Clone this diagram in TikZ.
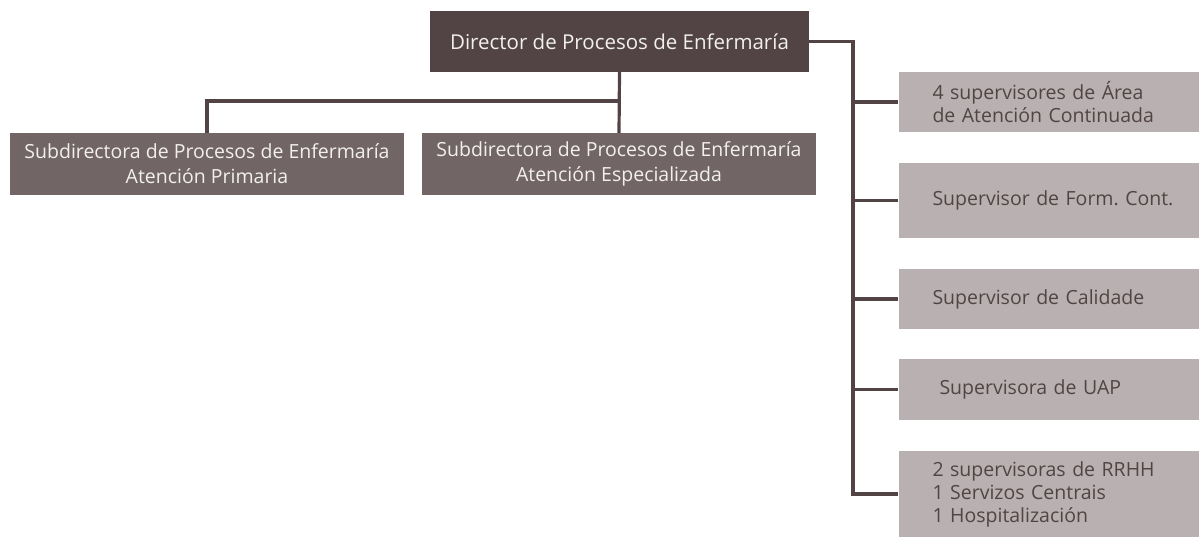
\documentclass[tikz,border=0pt]{standalone}
\usepackage{fontspec}
\setmainfont{Open Sans}
\frenchspacing
\usetikzlibrary{positioning}
\definecolor{darkbrown}{HTML}{524444}
\definecolor{midbrown}{HTML}{726566}
\definecolor{lightbrown}{HTML}{B9B1B1}
\definecolor{palewhite}{HTML}{F2EFEF}

\begin{document}
\begin{tikzpicture}[x=1pt, y=-1pt, font=\fontsize{20.5}{24}\selectfont,
    headbox/.style = {fill=darkbrown, text=palewhite, minimum width=379pt, minimum height=61pt, inner sep=0pt},
    subbox/.style  = {fill=midbrown, text=palewhite, align=center, minimum width=394pt, minimum height=62pt, inner sep=0pt,
                      font=\fontsize{19.5}{25}\selectfont},
    supbox/.style  = {fill=lightbrown, text=darkbrown, align=left, text width=232pt, inner xsep=34pt, inner ysep=0pt,
                      font=\fontsize{19.5}{23}\selectfont},
    link/.style    = {draw=darkbrown, line width=3.2pt}]
  \useasboundingbox (0,0) rectangle (1201,537);

  \node[headbox] (dir) at (619.5, 41.5) {Director de Procesos de Enfermaría};

  \node[subbox] (subap) at (207, 164) {Subdirectora de Procesos de Enfermaría\\Atención Primaria};
  \node[subbox] (subae) at (619, 164) {Subdirectora de Procesos de Enfermaría\\Atención Especializada};

  \node[supbox, minimum height=60pt] (supac)  at (1048.5, 102)   {4 supervisores de Área\\de Atención Continuada};
  \node[supbox, minimum height=75pt] (supfc)  at (1048.5, 200.5) {\mbox{Supervisor de Form. Cont.}};
  \node[supbox, minimum height=60pt] (supcal) at (1048.5, 299)   {Supervisor de Calidade};
  \node[supbox, minimum height=61pt] (supuap) at (1048.5, 389.5) {\hspace{7pt}Supervisora de UAP};
  \node[supbox, minimum height=86pt] (suprh)  at (1048.5, 494)   {2 supervisoras de RRHH\\1 Servizos Centrais\\1 Hospitalización};

  % connectors
  \coordinate (bus) at (0, 101);
  \coordinate (spine) at (853, 0);
  \draw[link] (dir.south) -- (subae.north);
  \draw[link] (dir.south |- bus) -| (subap.north);
  \draw[link] (dir.east) -| (spine |- suprh.west) -- (suprh.west);
  \foreach \n in {supac, supfc, supcal, supuap}
    \draw[link] (spine |- \n.west) -- (\n.west);
\end{tikzpicture}
\end{document}
